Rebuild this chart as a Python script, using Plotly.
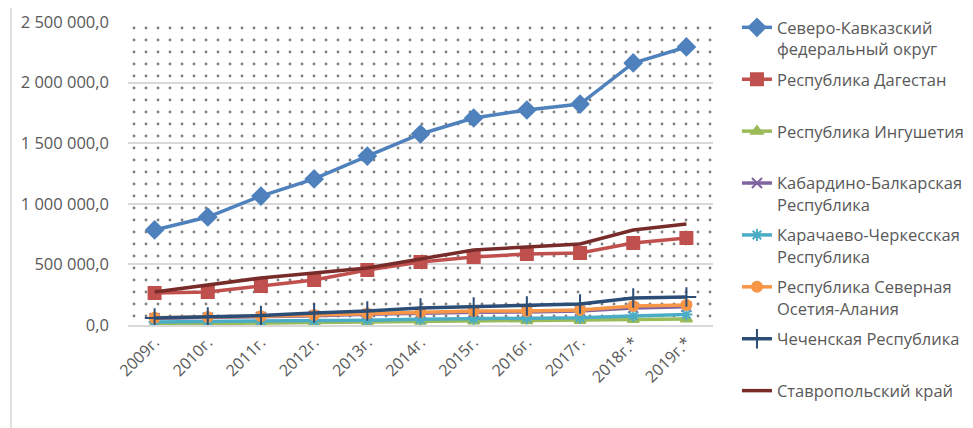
import plotly.graph_objects as go

years = ["2009г.", "2010г.", "2011г.", "2012г.", "2013г.", "2014г.", "2015г.",
         "2016г.", "2017г.", "2018г.*", "2019г.*"]

names = [
    "Северо-Кавказский<br>федеральный округ",
    "Республика Дагестан<br> ",
    "Республика Ингушетия<br> ",
    "Кабардино-Балкарская<br>Республика",
    "Карачаево-Черкесская<br>Республика",
    "Республика Северная<br>Осетия-Алания",
    "Чеченская Республика<br> ",
    "Ставропольский край",
]

skfo = [784000, 891000, 1064000, 1205000, 1394000, 1576000, 1708000, 1774000, 1823000, 2162000, 2294000]
dagestan = [264000, 272000, 322000, 371000, 454000, 520000, 561000, 586000, 594000, 677000, 718000]
ingush = [8000, 10000, 15000, 20000, 25000, 30000, 33000, 36000, 38000, 45000, 50000]
kbr = [55000, 60000, 66000, 76000, 88000, 100000, 105000, 108000, 115000, 140000, 150000]
kchr = [25000, 28000, 32000, 36000, 40000, 48000, 52000, 56000, 60000, 74000, 86000]
osetia = [60000, 65000, 72000, 83000, 95000, 107000, 115000, 115000, 124000, 157000, 165000]
chechnya = [58000, 66000, 78000, 99000, 115000, 140000, 149000, 157000, 173000, 223000, 231000]
stavropol = [272000, 330000, 388000, 429000, 470000, 545000, 619000, 644000, 668000, 784000, 833000]

series = [skfo, dagestan, ingush, kbr, kchr, osetia, chechnya, stavropol]
colors = ["#4F81BD", "#C0504D", "#9BBB59", "#8064A2", "#4BACC6", "#F79646", "#2C4D75", "#772C2A"]
symbols = ["diamond", "square", "triangle-up", "x-thin-open", "asterisk-open", "circle", "cross-thin-open", None]
msizes = [13, 12, 10, 10, 10, 10, 14, 0]

fig = go.Figure()

# dotted background of the plot area (decoration on hidden axes)
fig.add_trace(go.Scatter(
    x=[0, 1, 1, 0, 0], y=[0, 0, 1, 1, 0], mode="lines", fill="toself",
    line=dict(width=0), fillcolor="rgba(255,255,255,0)",
    fillpattern=dict(shape=".", size=12, solidity=0.045, fgcolor="#000000", bgcolor="rgba(255,255,255,0)"),
    xaxis="x", yaxis="y", showlegend=False, hoverinfo="skip"))

for i, (nm, vals) in enumerate(zip(names, series)):
    if symbols[i] is None:
        fig.add_trace(go.Scatter(x=years, y=vals, name=nm, mode="lines",
                                 line=dict(color=colors[i], width=3.5),
                                 xaxis="x2", yaxis="y2", legendgroup=str(i)))
    else:
        fig.add_trace(go.Scatter(x=years, y=vals, name=nm, mode="lines+markers",
                                 line=dict(color=colors[i], width=3.5),
                                 marker=dict(symbol=symbols[i], size=msizes[i], color=colors[i],
                                             line=dict(color=colors[i], width=2)),
                                 xaxis="x2", yaxis="y2", legendgroup=str(i)))

# page body adds an 8px offset; figure size/margins compensate for it
fig.update_layout(
    width=965, height=420,
    margin=dict(l=120, r=260, t=14, b=103),
    paper_bgcolor="white", plot_bgcolor="white",
    separators=", ",
    font=dict(family="Open Sans", color="#595959", size=16),
    xaxis=dict(range=[0, 1], visible=False, fixedrange=True, automargin=False),
    yaxis=dict(range=[0, 1], visible=False, fixedrange=True, automargin=False),
    xaxis2=dict(type="category", overlaying="x", anchor="y2", range=[-0.5, 10.5],
                tickangle=-45, tickfont=dict(size=16, color="#595959"),
                showgrid=False, showline=True, linecolor="#d9d9d9", linewidth=1.5,
                ticks="", automargin=False),
    yaxis2=dict(overlaying="y", anchor="x2", side="left", range=[0, 2500000],
                tickvals=[0, 500000, 1000000, 1500000, 2000000, 2500000],
                tickformat=",.1f", tickfont=dict(size=16.5, color="#595959"),
                showgrid=True, gridcolor="#d9d9d9", gridwidth=1.5,
                zeroline=False, showline=False, ticks="", ticklabelstandoff=18,
                automargin=False),
    legend=dict(xref="container", yref="container", x=0.7554, xanchor="left",
                y=0.995, yanchor="top",
                font=dict(size=16.5, color="#595959"), valign="top",
                tracegroupgap=6, bgcolor="rgba(0,0,0,0)", maxheight=420),
    shapes=[
        dict(type="line", xref="paper", yref="paper", x0=-0.2, x1=1.6, y0=1.0495, y1=1.0495,
             line=dict(color="#d9d9d9", width=1.5)),
        dict(type="line", xref="paper", yref="paper", x0=-0.2, x1=-0.2, y0=1.0495, y1=-0.5,
             line=dict(color="#d9d9d9", width=1.5)),
    ],
)

fig.write_html("out.html")
